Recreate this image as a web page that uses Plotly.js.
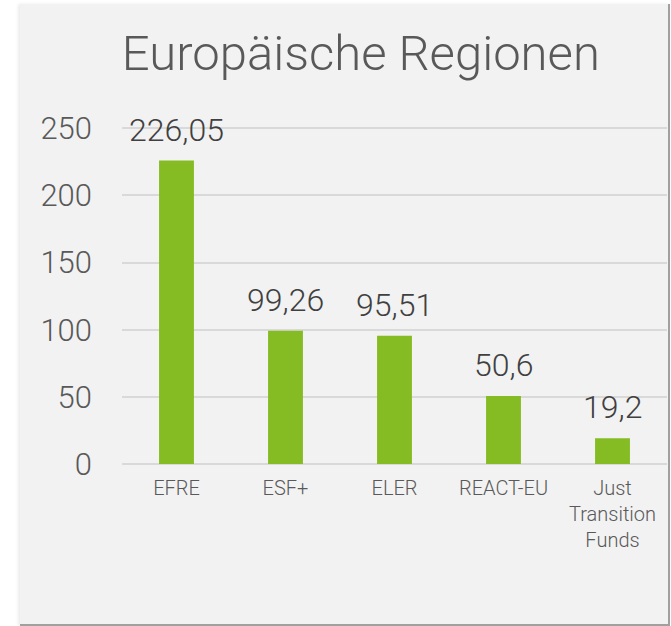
<!DOCTYPE html>
<html>
<head>
<meta charset="utf-8">
<script src="https://cdn.plot.ly/plotly-3.0.1.min.js"></script>
<style>
html,body{margin:0;padding:0;background:#ffffff;width:671px;height:626px;overflow:hidden;}
#wrap{position:absolute;left:20px;top:4px;width:648px;height:620px;background:#f2f2f2;
  border-right:2px solid #a0a0a0;border-bottom:2px solid #a0a0a0;box-shadow:-2px 0 3px rgba(0,0,0,0.08);}
#chart{width:648px;height:620px;}
</style>
</head>
<body>
<div id="wrap"><div id="chart"></div></div>
<script>
const categories = ["EFRE", "ESF+", "ELER", "REACT-EU", "Just<br>Transition<br>Funds"];
const values = [226.05, 99.26, 95.51, 50.6, 19.2];
const valueLabels = ["226,05", "99,26", "95,51", "50,6", "19,2"];
const yTicks = [0, 50, 100, 150, 200, 250];

const font = "Roboto, 'Open Sans', sans-serif";

const trace = {
  type: "bar",
  x: categories,
  y: values,
  marker: {color: "#85bc24"},
  width: 0.32,
  hoverinfo: "none"
};

const annotations = categories.map((c, i) => ({
  x: c, y: values[i], xref: "x", yref: "y",
  text: valueLabels[i], showarrow: false,
  yanchor: "bottom", yshift: 10,
  font: {family: font, size: 32, weight: 300, color: "#404040"}
}));

const layout = {
  width: 648, height: 620,
  paper_bgcolor: "#f2f2f2", plot_bgcolor: "#f2f2f2",
  margin: {l: 102, r: 1, t: 123, b: 160},
  showlegend: false,
  title: {
    text: "Europäische Regionen",
    font: {family: font, size: 49, weight: 300, color: "#595959"},
    xref: "container", x: 0.526, xanchor: "center",
    yref: "container", y: 0.922, yanchor: "middle"
  },
  xaxis: {
    type: "category",
    showgrid: false, zeroline: false, showline: false, ticks: "",
    tickfont: {family: font, size: 20, weight: 300, color: "#595959"},
    ticklabelstandoff: 10
  },
  yaxis: {
    range: [0, 251],
    tickvals: yTicks,
    ticktext: yTicks.map(String),
    showgrid: true, gridcolor: "#d9d9d9", gridwidth: 2,
    zeroline: true, zerolinecolor: "#d9d9d9", zerolinewidth: 2,
    showline: false, ticks: "",
    tickfont: {family: font, size: 31, weight: 300, color: "#595959"},
    ticklabelstandoff: 29
  },
  annotations: annotations
};

Plotly.newPlot("chart", [trace], layout, {displayModeBar: false, staticPlot: true});
</script>
</body>
</html>
